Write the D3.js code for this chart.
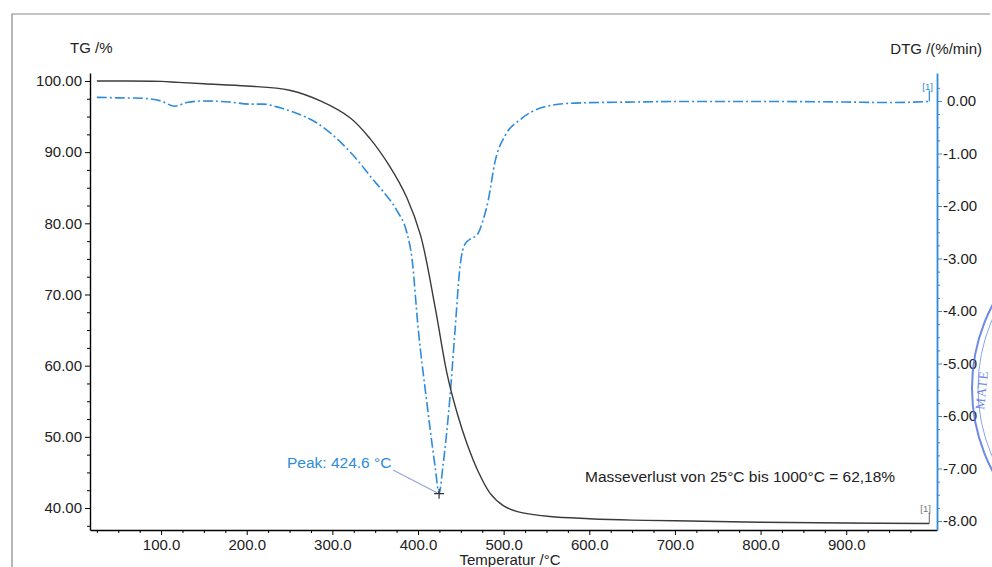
<!DOCTYPE html>
<html>
<head>
<meta charset="utf-8">
<script src="https://cdn.jsdelivr.net/npm/d3@7"></script>
<style>
  body { margin: 0; background: #fff; }
  svg { font-family: "Liberation Sans", Arial, sans-serif; }
</style>
</head>
<body>
<div id="chart"></div>
<script>
// TG curve (mass %)
const tgTemp = [25, 50, 100, 120, 150, 200, 250, 286, 321, 344, 367, 387, 403, 420, 434, 446, 457, 470, 484, 500, 516, 554, 600, 650, 700, 800, 900, 997];
const tgMass = [100.0, 100.0, 99.95, 99.8, 99.6, 99.3, 98.7, 97.2, 94.8, 91.9, 88.0, 83.6, 78.3, 68.2, 58.8, 53.2, 49.1, 45.2, 42.1, 40.3, 39.5, 38.8, 38.5, 38.3, 38.2, 38.0, 37.9, 37.82];

// DTG curve (%/min)
const dtgTemp = [25, 50, 80, 100, 116, 130, 150, 180, 204, 219, 239, 254, 282, 313, 332, 345, 359, 375, 387, 393, 400, 410, 420, 424.6, 429, 437, 443, 449, 455, 462, 469, 476, 482, 490, 502, 519, 548, 583, 650, 700, 800, 900, 950, 997];
const dtgRate = [0.07, 0.06, 0.05, 0.0, -0.1, -0.03, 0.0, -0.02, -0.06, -0.06, -0.13, -0.21, -0.42, -0.84, -1.18, -1.45, -1.72, -2.08, -2.51, -3.0, -4.3, -5.7, -6.97, -7.48, -6.97, -5.7, -4.42, -3.16, -2.72, -2.62, -2.55, -2.27, -1.89, -1.15, -0.65, -0.36, -0.11, -0.04, -0.02, -0.01, -0.01, -0.02, -0.03, -0.01];

const xTicks = [100, 200, 300, 400, 500, 600, 700, 800, 900];
const tgTicks = [40, 50, 60, 70, 80, 90, 100];
const dtgTicks = [0, -1, -2, -3, -4, -5, -6, -7, -8];

const peakTemp = 424.6;
const peakRate = -7.48;
const peakLabel = "Peak: 424.6 °C";
const lossLabel = "Masseverlust von 25°C bis 1000°C = 62,18%";

const width = 992, height = 567,
  margin = { top: 73, right: 55, bottom: 37, left: 90 };

const blue = "#2f8bdc";

const svg = d3.select("#chart").append("svg")
  .attr("width", width)
  .attr("height", height);

// scanned page frame
svg.append("path")
  .attr("d", `M12,${height} V14 H${width - 2}`)
  .attr("fill", "none")
  .attr("stroke", "#888")
  .attr("stroke-width", 1.2);

const xScale = d3.scaleLinear()
  .domain([17, 1006])
  .range([margin.left, width - margin.right]);

const yTG = d3.scaleLinear()
  .domain([36.91, 101.12])
  .range([height - margin.bottom, margin.top]);

const yDTG = d3.scaleLinear()
  .domain([-8.171, 0.533])
  .range([height - margin.bottom, margin.top]);

// x axis
const xMinor = d3.range(25, 1001, 25).filter(d => d % 100 !== 0);
svg.append("g")
  .attr("transform", `translate(0,${height - margin.bottom})`)
  .call(d3.axisBottom(xScale).tickValues(xMinor).tickSize(3).tickFormat(""))
  .call(g => g.select(".domain").remove());

svg.append("g")
  .attr("class", "axis x-axis")
  .attr("transform", `translate(0,${height - margin.bottom})`)
  .call(d3.axisBottom(xScale).tickValues(xTicks).tickSize(5).tickSizeOuter(0).tickFormat(d => d.toFixed(1)))
  .call(g => g.selectAll("text").attr("font-size", 15).attr("fill", "#222").attr("dy", "0.78em"))
  .call(g => g.select(".domain").attr("stroke-width", 1.4));

svg.append("text")
  .attr("x", 510)
  .attr("y", 565)
  .attr("text-anchor", "middle")
  .attr("font-size", 15)
  .attr("fill", "#222")
  .text("Temperatur /°C");

// left axis
const tgMinor = d3.range(37.5, 101, 2.5).filter(d => d % 10 !== 0);
svg.append("g")
  .attr("transform", `translate(${margin.left},0)`)
  .call(d3.axisLeft(yTG).tickValues(tgMinor).tickSize(3).tickFormat(""))
  .call(g => g.select(".domain").remove());

svg.append("g")
  .attr("class", "axis y-axis")
  .attr("transform", `translate(${margin.left},0)`)
  .call(d3.axisLeft(yTG).tickValues(tgTicks).tickSize(5).tickSizeOuter(0).tickFormat(d => d.toFixed(2)))
  .call(g => g.selectAll("text").attr("font-size", 15).attr("fill", "#222").attr("x", -8))
  .call(g => g.select(".domain").attr("stroke-width", 1.4));

svg.append("text")
  .attr("x", 70).attr("y", 53)
  .attr("font-size", 15).attr("fill", "#222")
  .text("TG /%");

// right axis
const dtgMinor = d3.range(-8, 0.5, 0.25).filter(d => d % 1 !== 0);
svg.append("g")
  .attr("transform", `translate(${width - margin.right},0)`)
  .call(d3.axisRight(yDTG).tickValues(dtgMinor).tickSize(3).tickFormat(""))
  .call(g => g.select(".domain").remove())
  .call(g => g.selectAll("line").attr("stroke", blue));

svg.append("g")
  .attr("class", "axis y2-axis")
  .attr("transform", `translate(${width - margin.right},0)`)
  .call(d3.axisRight(yDTG).tickValues(dtgTicks).tickSize(5).tickSizeOuter(0)
    .tickFormat(d => (d === 0 ? "0.00" : "-" + Math.abs(d).toFixed(2))))
  .call(g => g.selectAll("line").attr("stroke", blue))
  .call(g => g.select(".domain").attr("stroke", blue).attr("stroke-width", 1.8))
  .call(g => g.selectAll("text").attr("font-size", 15).attr("fill", "#222")
    .attr("x", d => (d === 0 ? 10 : 6)));

svg.append("text")
  .attr("x", 982).attr("y", 54)
  .attr("text-anchor", "end")
  .attr("font-size", 15).attr("fill", "#222")
  .text("DTG /(%/min)");

// curves
const tgLine = d3.line()
  .x(d => xScale(d[0]))
  .y(d => yTG(d[1]))
  .curve(d3.curveCatmullRom.alpha(0.5));

const dtgLine = d3.line()
  .x(d => xScale(d[0]))
  .y(d => yDTG(d[1]))
  .curve(d3.curveMonotoneX);

svg.append("path")
  .datum(d3.zip(dtgTemp, dtgRate))
  .attr("fill", "none")
  .attr("stroke", blue)
  .attr("stroke-width", 1.6)
  .attr("stroke-dasharray", "10,3,2,3")
  .attr("d", dtgLine);

svg.append("path")
  .datum(d3.zip(tgTemp, tgMass))
  .attr("fill", "none")
  .attr("stroke", "#3a3a3a")
  .attr("stroke-width", 1.4)
  .attr("d", tgLine);

// end markers [1]
const dtgEnd = [dtgTemp[dtgTemp.length - 1], dtgRate[dtgRate.length - 1]];
const tgEnd = [tgTemp[tgTemp.length - 1], tgMass[tgMass.length - 1]];

svg.append("line")
  .attr("x1", xScale(dtgEnd[0])).attr("x2", xScale(dtgEnd[0]))
  .attr("y1", yDTG(dtgEnd[1])).attr("y2", yDTG(dtgEnd[1]) - 11)
  .attr("stroke", blue).attr("stroke-width", 1.2);
svg.append("text")
  .attr("x", xScale(dtgEnd[0]) - 7).attr("y", yDTG(dtgEnd[1]) - 12)
  .attr("font-size", 9.5).attr("fill", blue)
  .text("[1]");

svg.append("line")
  .attr("x1", xScale(tgEnd[0])).attr("x2", xScale(tgEnd[0]))
  .attr("y1", yTG(tgEnd[1])).attr("y2", yTG(tgEnd[1]) - 11)
  .attr("stroke", "#666").attr("stroke-width", 1);
svg.append("text")
  .attr("x", xScale(tgEnd[0]) - 9).attr("y", yTG(tgEnd[1]) - 12)
  .attr("font-size", 9.5).attr("fill", "#777")
  .text("[1]");

// peak annotation
const px = xScale(peakTemp), py = yDTG(peakRate);
svg.append("line")
  .attr("x1", 393).attr("y1", 470)
  .attr("x2", px - 2).attr("y2", py - 1)
  .attr("stroke", "#8fa5d6").attr("stroke-width", 1.2);
svg.append("path")
  .attr("d", `M${px - 5},${py} H${px + 5} M${px},${py - 5} V${py + 5}`)
  .attr("stroke", "#333").attr("stroke-width", 1.2);
svg.append("text")
  .attr("x", 287).attr("y", 468)
  .attr("font-size", 15.5).attr("fill", blue)
  .text(peakLabel);

svg.append("text")
  .attr("x", 585).attr("y", 482)
  .attr("font-size", 15.5).attr("fill", "#222")
  .text(lossLabel);

// stamp remnant at the right edge
const stamp = svg.append("g").attr("fill", "none").attr("stroke", "#4a6ee0").attr("opacity", 0.8);
stamp.append("circle").attr("cx", 1150).attr("cy", 388).attr("r", 178).attr("stroke-width", 2);
stamp.append("circle").attr("cx", 1150).attr("cy", 388).attr("r", 172).attr("stroke-width", 0.8);
svg.append("text")
  .attr("transform", "translate(984,410) rotate(-84)")
  .attr("font-size", 13)
  .attr("font-family", "'Liberation Serif', serif")
  .attr("fill", "#4a6ee0")
  .attr("opacity", 0.8)
  .attr("letter-spacing", 1)
  .text("MATE");
</script>
</body>
</html>
